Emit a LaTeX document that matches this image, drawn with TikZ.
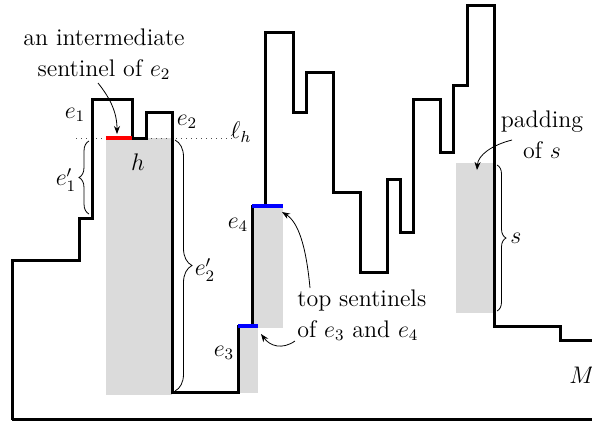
\documentclass[tikz,border=0pt]{standalone}
\usetikzlibrary{decorations.pathreplacing,arrows.meta}
\begin{document}
\begin{tikzpicture}[x=0.5pt,y=-0.5pt,
  font=\fontsize{12}{15.5}\selectfont,
  wall/.style={line width=1.5pt, line join=miter},
  pad/.style={fill=black!14, draw=none},
  sent/.style={line width=2pt},
  note/.style={-{Stealth[length=4pt,width=3pt]}, line width=0.4pt},
  brc/.style={decorate, decoration={brace, amplitude=#1}, line width=0.4pt},
  lbl/.style={inner sep=0pt}]
\useasboundingbox (0,0) rectangle (592,424);

% padding areas
\fill[pad] (106,138) rectangle (172,395);
\fill[pad] (252,206) rectangle (283,328);
\fill[pad] (238,326) rectangle (258,393);
\fill[pad] (456,163) rectangle (494,313);

% line l_h
\coordinate (lhs) at (76,138);
\coordinate (lhe) at (236,138);
\draw[dotted, line width=0.5pt, black!70] (lhs) -- (lhe);

% the polygon
\draw[wall] (12,419.5) -- (12,260) -- (79,260) -- (79,218) -- (92,218) -- (92,99)
  -- (132,99) -- (132,138) -- (146,138) -- (146,112) -- (172,112) -- (172,392)
  -- (238,392) -- (238,326) -- (252,326) -- (252,206) -- (265,206) -- (265,32)
  -- (293,32) -- (293,112) -- (306,112) -- (306,72) -- (333,72) -- (333,192)
  -- (360,192) -- (360,272) -- (387,272) -- (387,179) -- (400,179) -- (400,232)
  -- (413,232) -- (413,99) -- (440,99) -- (440,152) -- (453,152) -- (453,85)
  -- (467,85) -- (467,5) -- (494,5) -- (494,326) -- (560,326) -- (560,340)
  -- (600,340);
\draw[line width=1.3pt] (12,419.5) -- (600,419.5);

% sentinels
\draw[sent, red] (106,138) -- (132,138);
\draw[sent, blue] (252,206) -- (283,206);
\draw[sent, blue] (238,326) -- (258,326);

% braces
\draw[brc=5pt] (89,214) -- (89,141);
\draw[brc=8.5pt] (175,140) -- (175,391);
\draw[brc=4.5pt] (497,165) -- (497,311);

% labels
\node[lbl] (e1) at (75,115) {$e_1$};
\node[lbl] (e2) at (187,122) {$e_2$};
\node[lbl] (lh) at (241,132) {$\ell_h$};
\node[lbl] (h) at (138,162) {$h$};
\node[lbl] (e4) at (238,225) {$e_4$};
\node[lbl] (e3) at (224,353) {$e_3$};
\node[lbl] (e1p) at (66,180) {$e'_1$};
\node[lbl] (e2p) at (205,270) {$e'_2$};
\node[lbl] (sl) at (516,238) {$s$};
\node[lbl] (M) at (582,375) {$M$};

% notes
\node[lbl, align=center] (inter) at (104,54) {an intermediate\\sentinel of $e_2$};
\node[lbl, align=left, anchor=west] (tops) at (297,315) {top sentinels\\of $e_3$ and $e_4$};
\node[lbl, align=center] (padd) at (542,135) {padding\\of $s$};

% arrows
\coordinate (a1s) at (98,83);
\coordinate (a1e) at (117,134);
\draw[note] (a1s) .. controls (110,98) and (117,112) .. (a1e);
\coordinate (a2s) at (310,288);
\coordinate (a2e) at (282,212);
\draw[note] (a2s) .. controls (306,245) and (298,222) .. (a2e);
\coordinate (a3s) at (295,341);
\coordinate (a3e) at (261,334);
\draw[note] (a3s) .. controls (282,350) and (270,346) .. (a3e);
\coordinate (a4s) at (512,140);
\coordinate (a4e) at (477,170);
\draw[note] (a4s) .. controls (492,145) and (478,155) .. (a4e);
\end{tikzpicture}
\end{document}
